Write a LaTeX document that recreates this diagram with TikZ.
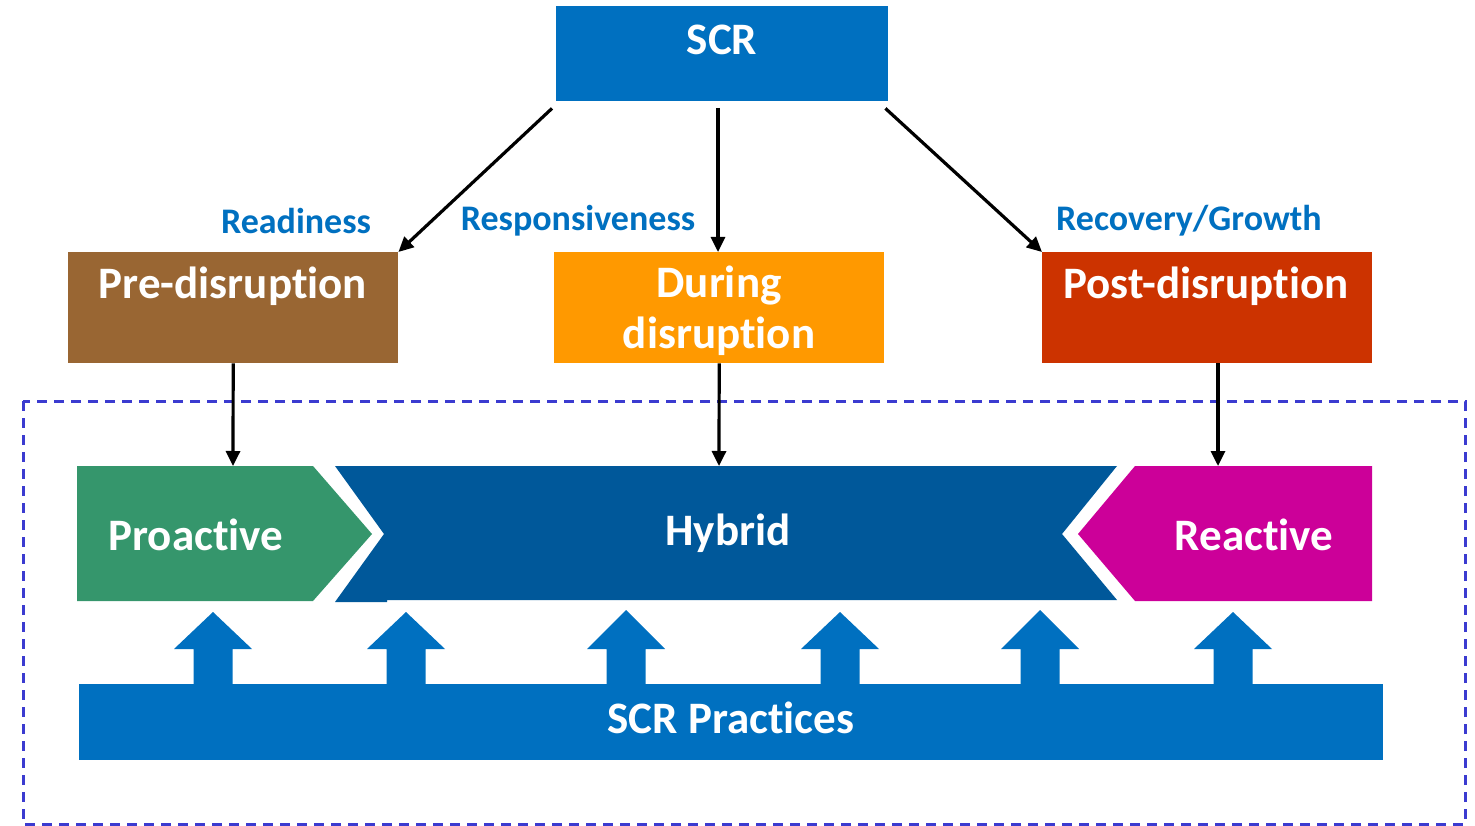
\documentclass[tikz,border=0pt]{standalone}
\usepackage{fontspec}
\setmainfont{Carlito}[Ligatures=NoCommon]
\usetikzlibrary{arrows.meta,calc}
\definecolor{scrblue}{HTML}{0070C0}
\definecolor{prebrown}{HTML}{996633}
\definecolor{durorange}{HTML}{FF9900}
\definecolor{postred}{HTML}{CC3300}
\definecolor{progreen}{HTML}{35966C}
\definecolor{hybblue}{HTML}{00589A}
\definecolor{reamag}{HTML}{CC0099}
\definecolor{dashblue}{HTML}{3B3BD0}
\tikzset{
  boxnode/.style={draw=none, minimum width=330pt, minimum height=111pt, inner sep=0pt},
  lbl/.style={text=scrblue, font=\fontsize{36}{42}\selectfont\bfseries, inner sep=0pt},
  wtext/.style={text=white, font=\fontsize{45}{51}\selectfont\bfseries, inner sep=0pt},
  arr/.style={line width=3.2pt, -{Triangle[length=15pt,width=14pt]}},
  uparrow/.style={fill=scrblue, draw=none},
}
\begin{document}
\begin{tikzpicture}[x=1pt,y=-1pt]
\useasboundingbox (0,0) rectangle (1475,826);
% dashed frame
\draw[dashblue, line width=3pt, dash pattern=on 10pt off 7pt] (23,401) rectangle (1465,824);
% top
\node[boxnode, fill=scrblue, minimum width=332pt, minimum height=95pt, anchor=north west] (scr) at (556,6) {};
\node[wtext] (scrt) at (722,40) {SCR};
\node[boxnode, fill=prebrown, anchor=north west] (pre) at (68,252) {};
\node[wtext] (pret) at (233,286) {Pre-disruption};
\node[boxnode, fill=durorange, anchor=north west] (dur) at (554,252) {};
\node[wtext, align=center] (durt) at (719,311) {During\\disruption};
\node[boxnode, fill=postred, anchor=north west] (post) at (1042,252) {};
\node[wtext] (postt) at (1206,286) {Post-disruption};
% labels
\node[lbl] (l1) at (296,221) {Readiness};
\node[lbl] (l2) at (578,221) {Responsiveness};
\node[lbl] (l3) at (1189,221) {Recovery/Growth};
% arrows from SCR
\coordinate (midTop) at (718,108);
\draw[arr] ([shift={(-4,7)}]scr.south west) -- (pre.north east);
\draw[arr] (midTop) -- (midTop |- dur.north);
\draw[arr] ([shift={(-3,7)}]scr.south east) -- (post.north west);
% chevrons
\fill[progreen] (77,466) -- (313,466) -- (372,534) -- (313,601) -- (77,601) -- cycle;
\fill[hybblue] (335,466) -- (1117,466) -- (1062,534) -- (1117,600) -- (387,600) -- (387,602) -- (335,602) -- (384,534) -- cycle;
\fill[reamag] (1135,466) -- (1372,466) -- (1372,601) -- (1135,601) -- (1078,534) -- cycle;
\node[wtext] (pro) at (196,535) {Proactive};
\node[wtext] (hyb) at (728,533) {Hybrid};
\node[wtext] (rea) at (1254,535) {Reactive};
\coordinate (proTop) at (233,466);
\coordinate (hybTop) at (719,466);
\coordinate (reaTop) at (1218,466);
\draw[arr] (pre.south) -- (proTop);
\draw[arr] (dur.south) -- (hybTop);
\draw[arr] (post.south -| reaTop) -- (reaTop);
% practices bar
\node[fill=scrblue, minimum width=1304pt, minimum height=76pt, inner sep=0pt, anchor=north west] (bar) at (79,684) {};
\node[wtext] (bart) at (731,718) {SCR Practices};
\foreach \cx/\ty in {213/612,406/612,626/610,840/612,1040/610,1233/612}{
  \fill[uparrow] (\cx,\ty) -- (\cx+39,649) -- (\cx+19.5,649) -- (\cx+19.5,685) -- (\cx-19.5,685) -- (\cx-19.5,649) -- (\cx-39,649) -- cycle;
}
\end{tikzpicture}
\end{document}
